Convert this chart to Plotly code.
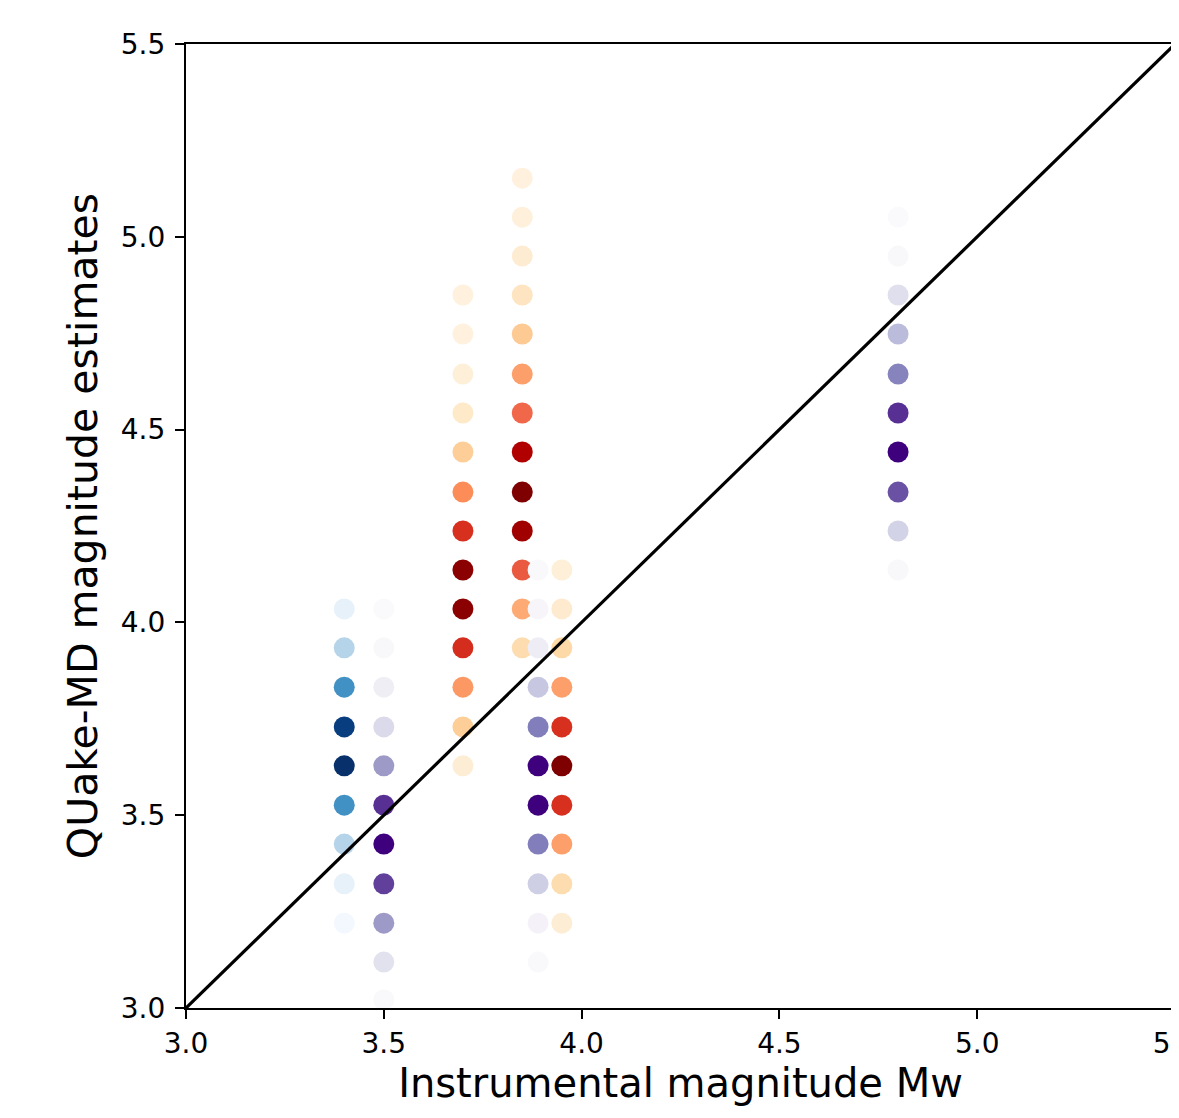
import plotly.graph_objects as go

# Instrumental magnitude (x) of each event column
mw_instrumental = [3.4, 3.5, 3.7, 3.85, 3.89, 3.95, 4.8]
colormaps = ["Blues", "Purples", "OrRd", "OrRd", "Purples", "OrRd", "Purples"]

# QUake-MD magnitude estimates for each column
est_34 = [4.035, 3.934, 3.832, 3.729, 3.628, 3.526, 3.425, 3.322, 3.220]
est_35 = [4.035, 3.934, 3.832, 3.729, 3.628, 3.526, 3.425, 3.322, 3.220, 3.119, 3.021]
est_37 = [4.849, 4.748, 4.644, 4.543, 4.442, 4.338, 4.237, 4.136, 4.035, 3.934, 3.832, 3.729, 3.628]
est_385 = [5.152, 5.051, 4.950, 4.849, 4.748, 4.644, 4.543, 4.442, 4.338, 4.237, 4.136, 4.035, 3.934]
est_389 = [4.136, 4.035, 3.934, 3.832, 3.729, 3.628, 3.526, 3.425, 3.322, 3.220, 3.119]
est_395 = [4.136, 4.035, 3.934, 3.832, 3.729, 3.628, 3.526, 3.425, 3.322, 3.220]
est_48 = [5.051, 4.950, 4.849, 4.748, 4.644, 4.543, 4.442, 4.338, 4.237, 4.136]

# Relative probability of each estimate (colour intensity)
prob_34 = [0.08, 0.3, 0.63, 0.95, 1.0, 0.63, 0.3, 0.08, 0.02]
prob_35 = [0.02, 0.04, 0.12, 0.25, 0.5, 0.85, 1.0, 0.8, 0.5, 0.2, 0.03]
prob_37 = [0.05, 0.05, 0.07, 0.12, 0.28, 0.5, 0.75, 0.97, 0.97, 0.76, 0.47, 0.28, 0.08]
prob_385 = [0.05, 0.06, 0.09, 0.15, 0.3, 0.45, 0.62, 0.88, 1.0, 0.92, 0.65, 0.42, 0.2]
prob_389 = [0.03, 0.05, 0.13, 0.33, 0.62, 1.0, 1.0, 0.62, 0.3, 0.08, 0.03]
prob_395 = [0.07, 0.1, 0.22, 0.45, 0.75, 1.0, 0.75, 0.45, 0.2, 0.08]
prob_48 = [0.02, 0.04, 0.22, 0.38, 0.6, 0.85, 1.0, 0.75, 0.28, 0.04]

estimates = [est_34, est_35, est_37, est_385, est_389, est_395, est_48]
probabilities = [prob_34, prob_35, prob_37, prob_385, prob_389, prob_395, prob_48]

# 1:1 reference line
line_x = [3.0, 5.5]
line_y = [3.0, 5.5]

tick_vals = [3.0, 3.5, 4.0, 4.5, 5.0, 5.5]
tick_text = ["3.0", "3.5", "4.0", "4.5", "5.0", "5.5"]

fig = go.Figure()
for mw, ys, ps, cmap in zip(mw_instrumental, estimates, probabilities, colormaps):
    fig.add_trace(go.Scatter(
        x=[mw] * len(ys), y=ys, mode="markers",
        marker=dict(size=21, color=ps, colorscale=cmap, cmin=0, cmax=1,
                    line=dict(width=0)),
        showlegend=False, hoverinfo="x+y",
    ))

fig.add_trace(go.Scatter(x=line_x, y=line_y, mode="lines",
                         line=dict(color="black", width=3.2), showlegend=False))

axis_common = dict(
    range=[3.0, 5.5], tickvals=tick_vals, ticktext=tick_text,
    showgrid=False, zeroline=False, showline=True, linecolor="black",
    linewidth=2.2, mirror=True, ticks="outside", ticklen=9, tickwidth=2,
    tickcolor="black", tickfont=dict(family="DejaVu Sans", size=28, color="black"),
    ticklabeloverflow="allow", automargin=False,
)

# The page body adds an ~8px offset, so margins are reduced accordingly
fig.update_layout(
    width=1171, height=1110,
    margin=dict(l=178, r=4, t=36, b=110, autoexpand=False),
    paper_bgcolor="white", plot_bgcolor="white",
    font=dict(family="DejaVu Sans", color="black"),
    xaxis=dict(**axis_common,
               title=dict(text="Instrumental magnitude Mw",
                          font=dict(family="DejaVu Sans", size=40), standoff=10)),
    yaxis=dict(**axis_common, ticklabelstandoff=4,
               title=dict(text="QUake-MD magnitude estimates",
                          font=dict(family="DejaVu Sans", size=41), standoff=10)),
)

fig.write_html("out.html")
